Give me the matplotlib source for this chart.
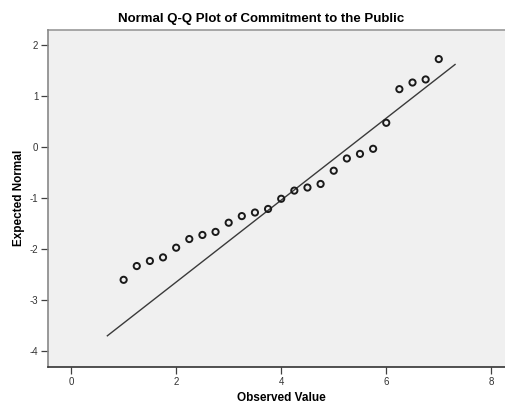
import matplotlib
matplotlib.use("Agg")
import matplotlib.pyplot as plt
import numpy as np

plt.rcParams['font.family'] = ['Liberation Sans', 'DejaVu Sans']
plt.rcParams['axes.unicode_minus'] = False

observed = [1.0, 1.25, 1.5, 1.75, 2.0, 2.25, 2.5, 2.75, 3.0, 3.25, 3.5, 3.75,
            4.0, 4.25, 4.5, 4.75, 5.0, 5.25, 5.5, 5.75, 6.0, 6.25, 6.5, 6.75, 7.0]
expected = [-2.60, -2.33, -2.23, -2.16, -1.97, -1.80, -1.72, -1.66, -1.48, -1.35,
            -1.28, -1.21, -1.01, -0.85, -0.79, -0.72, -0.46, -0.22, -0.13, -0.03,
            0.48, 1.14, 1.27, 1.33, 1.73]
line_x = [0.69, 7.31]
line_mean = 5.29
line_sd = 1.244
x_ticks = [0, 2, 4, 6, 8]
y_ticks = [-4, -3, -2, -1, 0, 1, 2]

fig = plt.figure(figsize=(5.06, 4.08), dpi=100)
ax = fig.add_axes([48/506, 1 - 367/408, (506 - 48)/506, (367 - 29.5)/408])
ax.set_facecolor('#F0F0F0')

lx = np.array(line_x)
ly = (lx - line_mean) / line_sd
ax.plot(lx, ly, color='#3a3a3a', lw=1.0, zorder=2)
ax.scatter(observed, expected, s=20, facecolors='none', edgecolors='#1a1a1a',
           linewidths=1.4, zorder=3)

ax.set_xlim(-0.44, 8.28)
ax.set_ylim(-4.31, 2.31)
ax.set_xticks(x_ticks)
ax.set_yticks(y_ticks)
ax.tick_params(axis='both', direction='out', length=5, width=0.9, color='#404040',
               labelsize=7, labelcolor='#333333', pad=2)

for side in ['top', 'right']:
    ax.spines[side].set_visible(False)
ax.spines['left'].set_color('#888888')
ax.spines['left'].set_linewidth(1.2)
ax.spines['bottom'].set_color('#333333')
ax.spines['bottom'].set_linewidth(1.2)
ax.axhline(2.31, color='#999999', lw=1.2, clip_on=False)

ax.set_xlabel('Observed Value', fontsize=8.5, fontweight='bold', va='center')
ax.set_ylabel('Expected Normal', fontsize=8.5, fontweight='bold', va='center')
ax.xaxis.set_label_coords((281.5 - 48) / 458, -31 / 337.5)
ax.yaxis.set_label_coords(-29 / 458, 0.5)
fig.text(261 / 506, 1 - 19/408, 'Normal Q-Q Plot of Commitment to the Public',
         ha='center', va='center', fontsize=9.5, fontweight='bold')

fig.savefig('out.png', dpi=100)
